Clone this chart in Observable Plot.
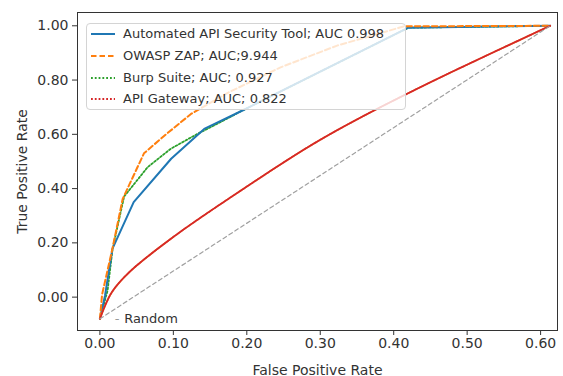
<!DOCTYPE html>
<html>
<head>
<meta charset="utf-8">
<script src="https://cdn.jsdelivr.net/npm/d3@7"></script>
<script src="https://cdn.jsdelivr.net/npm/@observablehq/plot@0.6"></script>
<style>
  body { margin: 0; background: white; }
  #wrap { position: relative; width: 563px; height: 376px; font-family: "DejaVu Sans", sans-serif; }
  #legend { position: absolute; left: 86px; top: 23px; width: 320px; height: 87px; box-sizing: border-box;
    background: rgba(255,255,255,0.8); border: 1px solid #d4d4d4; border-radius: 4px; }
  .row { position: absolute; left: 0; height: 20px; width: 100%; }
  .row svg { position: absolute; left: 3px; top: 4px; }
  .row span { position: absolute; left: 36px; top: 1px; font-size: 13px; color: #333; white-space: nowrap; line-height: 16px; }
</style>
</head>
<body>
<div id="wrap"><div id="legend"></div></div>
<script>
// ---- data ----
const seriesNames = ["Automated API Security Tool; AUC 0.998", "OWASP ZAP; AUC;9.944", "Burp Suite; AUC; 0.927", "API Gateway; AUC; 0.822"];

const toolFpr = [0, 0.007, 0.017, 0.046, 0.097, 0.142, 0.192, 0.42, 0.613];
const toolTpr = [-0.08, 0.006, 0.178, 0.35, 0.51, 0.62, 0.685, 0.993, 1.0];

const zapFpr = [0, 0.003, 0.017, 0.031, 0.06, 0.09, 0.124, 0.1755, 0.246, 0.323, 0.414, 0.613];
const zapTpr = [-0.08, 0.01, 0.178, 0.362, 0.53, 0.60, 0.675, 0.755, 0.847, 0.927, 0.998, 1.0];

const burpFpr = [0, 0.0105, 0.0173, 0.033, 0.065, 0.0966, 0.133, 0.160, 0.192, 0.42, 0.613];
const burpTpr = [-0.08, 0.025, 0.178, 0.371, 0.479, 0.547, 0.602, 0.639, 0.685, 0.993, 1.0];

const gatewayFpr = [0, 0.015, 0.0377, 0.0966, 0.192, 0.287, 0.355, 0.45, 0.53, 0.613];
const gatewayTpr = [-0.08, 0.0125, 0.086, 0.215, 0.393, 0.559, 0.662, 0.792, 0.895, 1.0];

const randomFpr = [0, 0.613];
const randomTpr = [-0.08, 1.0];

const randomLabel = [{x: 0.0235, y: -0.08, dash: "-", text: "Random", tx: 0.033}];

const xTicks = [0, 0.1, 0.2, 0.3, 0.4, 0.5, 0.6];
const yTicks = [0, 0.2, 0.4, 0.6, 0.8, 1.0];

// ---- styles ----
const colors = ["#1f77b4", "#ff7f0e", "#2ca02c", "#d62728"];
const dashes = [null, "5.5,3", "1.8,2", "1.8,2"];
const widths = [2, 2, 1.8, 1.8];

const toRows = (xs, ys) => xs.map((x, i) => ({x, y: ys[i]}));
const tool = toRows(toolFpr, toolTpr);
const zap = toRows(zapFpr, zapTpr);
const burp = toRows(burpFpr, burpTpr);
const gateway = toRows(gatewayFpr, gatewayTpr);
const random = toRows(randomFpr, randomTpr);

const chart = Plot.plot({
  width: 563, height: 376,
  marginLeft: 77, marginRight: 6, marginTop: 12, marginBottom: 46,
  style: {fontFamily: "DejaVu Sans", fontSize: "14px", color: "#333", background: "white"},
  x: {domain: [-0.0305, 0.623]},
  y: {domain: [-0.123, 1.049]},
  marks: [
    Plot.axisX({ticks: xTicks, tickFormat: d3.format(".2f"), tickSize: 5, tickPadding: 3,
      label: "False Positive Rate", labelAnchor: "center", labelOffset: 44, labelArrow: "none", stroke: "#333"}),
    Plot.axisY({ticks: yTicks, tickFormat: d3.format(".2f"), tickSize: 5, tickPadding: 4,
      label: "True Positive Rate", labelAnchor: "center", labelOffset: 60, labelArrow: "none", stroke: "#333"}),
    Plot.line(burp, {x: "x", y: "y", stroke: colors[2], strokeWidth: widths[2], strokeDasharray: dashes[2]}),
    Plot.line(tool, {x: "x", y: "y", stroke: colors[0], strokeWidth: widths[0]}),
    Plot.line(zap, {x: "x", y: "y", stroke: colors[1], strokeWidth: widths[1], strokeDasharray: dashes[1]}),
    Plot.line(gateway, {x: "x", y: "y", stroke: "#f08a30", strokeWidth: 1.8, curve: "catmull-rom"}),
    Plot.line(gateway, {x: "x", y: "y", stroke: colors[3], strokeWidth: widths[3], strokeDasharray: "2.5,1.2", curve: "catmull-rom"}),
    Plot.line(random, {x: "x", y: "y", stroke: "#a0a0a0", strokeWidth: 1.2, strokeDasharray: "4,3"}),
    Plot.text(randomLabel, {x: "x", y: "y", text: "dash", fill: "#999", fontSize: 13, textAnchor: "middle"}),
    Plot.text(randomLabel, {x: "tx", y: "y", text: "text", fill: "#333", fontSize: 13, textAnchor: "start"}),
    Plot.frame({stroke: "#333", strokeWidth: 1})
  ]
});
document.getElementById("wrap").prepend(chart);

// legend
const legend = d3.select("#legend");
seriesNames.forEach((name, i) => {
  const row = legend.append("div").attr("class", "row").style("top", (1 + i * 21.8) + "px");
  const svg = row.append("svg").attr("width", 26).attr("height", 10);
  svg.append("line").attr("x1", 1).attr("x2", 25).attr("y1", 5).attr("y2", 5)
    .attr("stroke", colors[i]).attr("stroke-width", widths[i])
    .attr("stroke-dasharray", dashes[i]);
  row.append("span").text(name);
});
</script>
</body>
</html>
